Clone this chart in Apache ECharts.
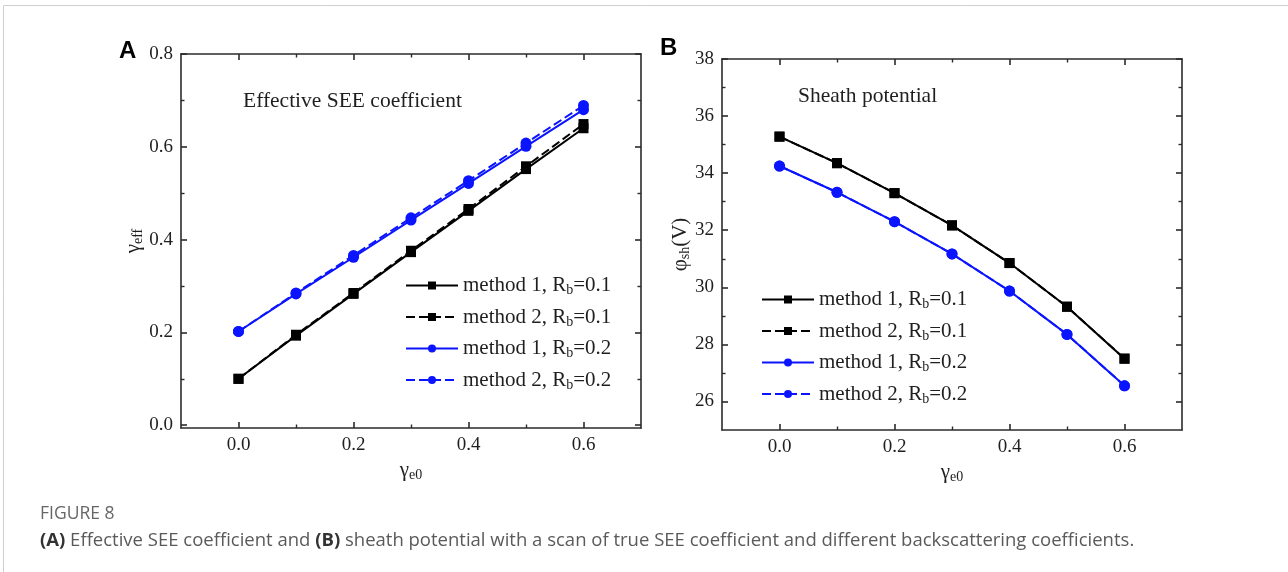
<!DOCTYPE html>
<html>
<head>
<meta charset="utf-8">
<script src="https://cdn.jsdelivr.net/npm/echarts@6/dist/echarts.min.js"></script>
<style>
  html, body { margin: 0; padding: 0; background: #fff; }
  #chart { width: 1288px; height: 572px; }
</style>
</head>
<body>
<div id="chart"></div>
<script>
// True SEE coefficient scan (x values shared by every curve)
const gammaE0 = [0, 0.1, 0.2, 0.3, 0.4, 0.5, 0.6];

// Effective SEE coefficient
const effM1Rb01 = [0.100, 0.193, 0.283, 0.373, 0.462, 0.552, 0.640];
const effM2Rb01 = [0.100, 0.195, 0.285, 0.376, 0.466, 0.558, 0.649];
const effM1Rb02 = [0.202, 0.283, 0.362, 0.442, 0.521, 0.601, 0.680];
const effM2Rb02 = [0.202, 0.285, 0.366, 0.447, 0.527, 0.608, 0.689];

// Sheath potential (V)
const phiM1Rb01 = [35.28, 34.35, 33.30, 32.17, 30.85, 29.32, 27.50];
const phiM2Rb01 = [35.28, 34.35, 33.30, 32.17, 30.85, 29.32, 27.50];
const phiM1Rb02 = [34.25, 33.33, 32.30, 31.17, 29.87, 28.35, 26.55];
const phiM2Rb02 = [34.25, 33.33, 32.30, 31.17, 29.87, 28.35, 26.55];

// Series names and tick positions
const seriesNames = ['method 1, Rb=0.1', 'method 2, Rb=0.1', 'method 1, Rb=0.2', 'method 2, Rb=0.2'];
const xMajorTicks = [0, 0.2, 0.4, 0.6];
const xMinorTicks = [0.1, 0.3, 0.5];
const effMajorTicks = [0, 0.2, 0.4, 0.6, 0.8];
const effMinorTicks = [0.1, 0.3, 0.5, 0.7];
const phiMajorTicks = [26, 28, 30, 32, 34, 36, 38];
const phiMinorTicks = [27, 29, 31, 33, 35, 37];

const SERIF = '"Liberation Serif", "Times New Roman", serif';
const INK = '#1f1f1f';
const FRAME = '#2b2b2b';

const nameRich = {
  g: { fontFamily: SERIF, fontSize: 21, color: INK, lineHeight: 24 },
  s: { fontFamily: SERIF, fontSize: 14, color: INK, lineHeight: 12, verticalAlign: 'bottom' }
};

// Four-sided frame: labelled major axis, minor tick axis, and mirrored axes on the opposite side
function frameAxes(dim, gridIndex, min, max, majors, minors, labelFmt, name, nameGap) {
  const near = dim === 'x' ? 'bottom' : 'left';
  const far = dim === 'x' ? 'top' : 'right';
  const base = {
    type: 'value', gridIndex, min, max, splitLine: { show: false },
    axisPointer: { show: false }
  };
  const major = (pos, withLabel) => Object.assign({}, base, {
    position: pos,
    axisLine: { show: true, onZero: false, lineStyle: { color: FRAME, width: 1.6 } },
    axisTick: { show: true, inside: true, length: 6, customValues: majors, lineStyle: { color: FRAME, width: 1.6 } },
    axisLabel: withLabel ? {
      show: true, customValues: majors, formatter: labelFmt, margin: 8,
      fontFamily: SERIF, fontSize: 19, color: INK
    } : { show: false },
    name: withLabel ? name : '',
    nameLocation: 'middle',
    nameGap: nameGap,
    nameMoveOverlap: false,
    nameTextStyle: { rich: nameRich, fontFamily: SERIF, fontSize: 21, color: INK }
  });
  const minor = (pos) => Object.assign({}, base, {
    position: pos,
    axisLine: { show: false, onZero: false },
    axisTick: { show: true, inside: true, length: 3.5, customValues: minors, lineStyle: { color: FRAME, width: 1.4 } },
    axisLabel: { show: false }
  });
  return [major(near, true), minor(near), major(far, false), minor(far)];
}

const fmt1 = v => v.toFixed(1);
const fmt0 = v => String(Math.round(v));

const xAxes = [].concat(
  frameAxes('x', 0, -0.1, 0.7, xMajorTicks, xMinorTicks, fmt1, '{g|γ}{s|e0}', 30),
  frameAxes('x', 1, -0.1, 0.7, xMajorTicks, xMinorTicks, fmt1, '{g|γ}{s|e0}', 30)
);
const yAxes = [].concat(
  frameAxes('y', 0, -0.006, 0.8, effMajorTicks, effMinorTicks, fmt1, '{g|γ}{s|eff}', 36),
  frameAxes('y', 1, 25, 38, phiMajorTicks, phiMinorTicks, fmt0, '{g|φ}{s|sh}{g|(V)}', 30)
);

const styles = [
  { color: '#000000', symbol: 'rect', size: 10, dash: 'solid' },
  { color: '#000000', symbol: 'rect', size: 10, dash: [9, 4] },
  { color: '#0a14ff', symbol: 'circle', size: 11, dash: 'solid' },
  { color: '#0a14ff', symbol: 'circle', size: 11, dash: [9, 4] }
];

function makeSeries(values, idx, panel) {
  const st = styles[idx];
  return {
    type: 'line',
    name: seriesNames[idx],
    xAxisIndex: panel * 4,
    yAxisIndex: panel * 4,
    data: gammaE0.map((x, i) => [x, values[i]]),
    symbol: st.symbol,
    symbolSize: st.size,
    showAllSymbol: true,
    itemStyle: { color: st.color },
    lineStyle: { color: st.color, width: 2, type: st.dash },
    emphasis: { disabled: true },
    animation: false,
    z: 3 + idx
  };
}

const legendBase = {
  orient: 'vertical',
  itemWidth: 52,
  itemHeight: 10,
  itemGap: 9,
  data: seriesNames,
  selectedMode: false,
  lineStyle: { width: 2 },
  formatter: n => n.replace(/^(.*R)b(=.*)$/, '{t|$1}{s|b}{t|$2}'),
  textStyle: {
    fontFamily: SERIF, fontSize: 21, color: INK,
    rich: {
      t: { fontFamily: SERIF, fontSize: 21, color: INK, lineHeight: 24 },
      s: { fontFamily: SERIF, fontSize: 14, color: INK, lineHeight: 12, verticalAlign: 'bottom' }
    }
  }
};

const chart = echarts.init(document.getElementById('chart'), null, { renderer: 'canvas' });
chart.setOption({
  backgroundColor: '#ffffff',
  animation: false,
  grid: [
    { left: 181, top: 54, width: 460, height: 374, outerBoundsMode: 'none', containLabel: false },
    { left: 722, top: 59, width: 460, height: 371, outerBoundsMode: 'none', containLabel: false }
  ],
  xAxis: xAxes,
  yAxis: yAxes,
  legend: [
    Object.assign({}, legendBase, { left: 400, top: 270 }),
    Object.assign({}, legendBase, { left: 756, top: 284 })
  ],
  series: [
    makeSeries(effM1Rb01, 0, 0),
    makeSeries(effM2Rb01, 1, 0),
    makeSeries(effM1Rb02, 2, 0),
    makeSeries(effM2Rb02, 3, 0),
    makeSeries(phiM1Rb01, 0, 1),
    makeSeries(phiM2Rb01, 1, 1),
    makeSeries(phiM1Rb02, 2, 1),
    makeSeries(phiM2Rb02, 3, 1)
  ],
  graphic: [
    {
      type: 'rect', silent: true, z: -1,
      shape: { x: 3.5, y: 5.5, width: 1300, height: 600 },
      style: { fill: 'none', stroke: '#cfcfcf', lineWidth: 1 }
    },
    {
      type: 'text', left: 119, top: 39,
      style: { text: 'A', font: 'bold 24px "Liberation Sans", Arial, sans-serif', fill: '#000' }
    },
    {
      type: 'text', left: 660, top: 36,
      style: { text: 'B', font: 'bold 24px "Liberation Sans", Arial, sans-serif', fill: '#000' }
    },
    {
      type: 'text', left: 243, top: 90,
      style: { text: 'Effective SEE coefficient', font: '21.5px ' + SERIF, fill: INK }
    },
    {
      type: 'text', left: 798, top: 85,
      style: { text: 'Sheath potential', font: '21.5px ' + SERIF, fill: INK }
    },
    {
      type: 'text', left: 40, top: 505,
      style: { text: 'FIGURE 8', font: '17.5px "Open Sans", sans-serif', fill: '#666666' }
    },
    {
      type: 'text', left: 40, top: 531,
      style: {
        text: '{b|(A)} Effective SEE coefficient and {b|(B)} sheath potential with a scan of true SEE coefficient and different backscattering coefficients.',
        font: '18.5px "Open Sans", sans-serif', fill: '#5a5a5a',
        rich: {
          b: { fontFamily: '"Open Sans", sans-serif', fontSize: 18.5, fontWeight: 'bold', fill: '#333333' }
        }
      }
    }
  ]
});
</script>
</body>
</html>
